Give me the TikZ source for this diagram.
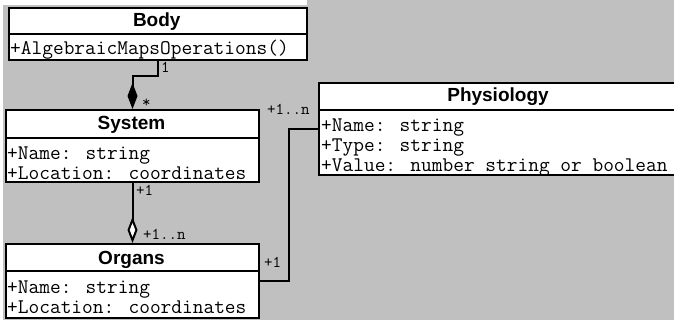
\documentclass[tikz,border=0pt]{standalone}
\usepackage{fontspec}
\setmainfont{Liberation Sans}
\usetikzlibrary{arrows.meta,calc}
\definecolor{canvas}{HTML}{C0C0C0}
\begin{document}
\begin{tikzpicture}[x=1pt,y=-1pt,
  classbox/.style={draw=black, fill=white, line width=2pt, rectangle, inner sep=0pt, anchor=north west},
  divider/.style={draw=black, line width=2pt},
  title/.style={font=\fontsize{19}{20}\selectfont\bfseries, anchor=base, inner sep=0pt},
  member/.style={font=\ttfamily\fontsize{20.8}{20}\selectfont, anchor=base west, inner sep=0pt},
  mult/.style={font=\ttfamily\fontsize{16.5}{17}\selectfont, anchor=base west, inner sep=0pt},
  link/.style={draw=black, line width=2pt},
]
\useasboundingbox (0,0) rectangle (674,320);
\clip (0,0) rectangle (674,320);
% canvas
\fill[white] (0,0) rectangle (674,320);
\fill[canvas] (3,0) rectangle (674,320);
\fill[white] (0,0) rectangle (307,5);

% class boxes
\node[classbox, minimum width=298.5, minimum height=52] (body) at (7.5,7) {};
\node[classbox, minimum width=253, minimum height=72] (system) at (5,109) {};
\node[classbox, minimum width=253, minimum height=74] (organs) at (5,243) {};
\node[classbox, minimum width=362, minimum height=92] (physio) at (318,82) {};

% compartment separators
\draw[divider] ($(body.north west)+(0,27)$) -- ($(body.north east)+(0,27)$);
\draw[divider] ($(system.north west)+(0,29)$) -- ($(system.north east)+(0,29)$);
\draw[divider] ($(organs.north west)+(0,28)$) -- ($(organs.north east)+(0,28)$);
\draw[divider] ($(physio.north west)+(0,28)$) -- ($(physio.north east)+(0,28)$);

% class names
\node[title] (bodyT) at (156.75,27) {Body};
\node[title] (systemT) at (131.5,130) {System};
\node[title] (organsT) at (131.5,265) {Organs};
\node[title] (physioT) at (498,102) {Physiology};

% members
\node[member] (bodyOp) at (10,55) {+AlgebraicMapsOperations()};
\node[member] (sysName) at (7,160) {+Name: string};
\node[member] (sysLoc) at (7,180) {+Location: coordinates};
\node[member] (orgName) at (7,293) {+Name: string};
\node[member] (orgLoc) at (7,313) {+Location: coordinates};
\node[member] (phyName) at (321,132) {+Name: string};
\node[member] (phyType) at (321,152) {+Type: string};
\node[member] (phyValue) at (321,172) {+Value: number string or boolean};

% associations
\draw[link, -{Diamond[length=26pt,width=10pt]}] (body.south) -- ++(0,15) -| (system.north);
\draw[link, -{Diamond[open, fill=white, length=26pt, width=10pt]}] (system.south) -- (organs.north);
\draw[link] (organs.east) -- ++(29,0) |- (physio.west);

% multiplicities
\node[mult] (mBody) at (161,73) {1};
\node[mult] (mSysTop) at (142,108) {*};
\node[mult] (mSysBot) at (136,196) {+1};
\node[mult] (mOrgTop) at (143,240) {+1..n};
\node[mult] (mOrgRight) at (264,267) {+1};
\node[mult] (mPhy) at (267,115) {+1..n};
\end{tikzpicture}
\end{document}
